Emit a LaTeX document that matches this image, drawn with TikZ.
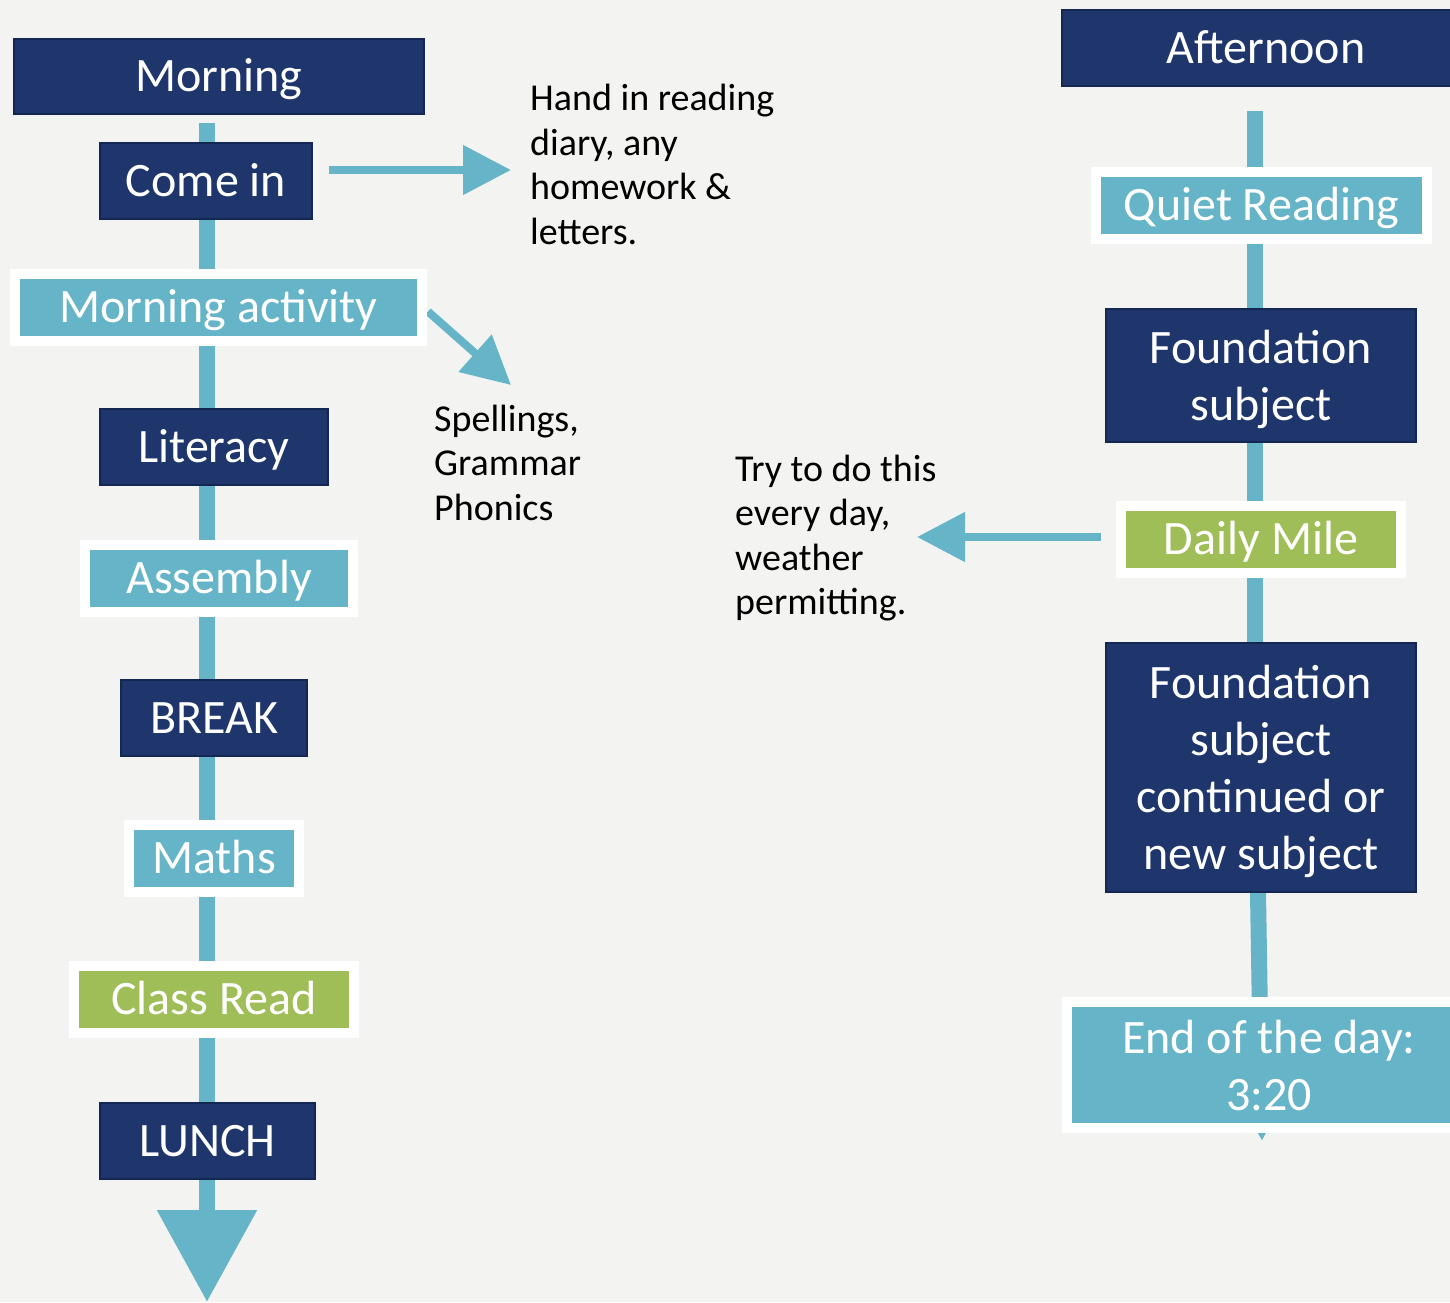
\documentclass[tikz,border=0pt]{standalone}
\usepackage{fontspec}
\setmainfont{Carlito}
\usetikzlibrary{arrows.meta}
\definecolor{bg}{RGB}{243,243,241}
\definecolor{navy}{RGB}{30,54,108}
\definecolor{navyedge}{RGB}{20,38,82}
\definecolor{lblue}{RGB}{102,180,200}
\definecolor{lgreen}{RGB}{160,190,87}
\pgfdeclarelayer{bottom}
\pgfdeclarelayer{background}
\pgfsetlayers{bottom,background,main}
\begin{document}
\begin{tikzpicture}[x=1pt,y=-1pt,
  boxfont/.style={font=\fontsize{48}{57}\selectfont},
  navybox/.style={boxfont, fill=navy, draw=navyedge, line width=2pt, text=white, inner sep=0pt, align=center},
  framebox/.style={boxfont, draw=white, line width=10pt, text=white, inner sep=0pt, align=center},
  bluebox/.style={framebox, fill=lblue},
  greenbox/.style={framebox, fill=lgreen},
  oneline/.style={text height=30pt, text depth=0pt},
  multiline/.style={text depth=0pt},
  vline/.style={draw=lblue, line width=16pt},
  pointer/.style={draw=lblue, line width=8pt, -{Triangle[length=48pt,width=48pt]}},
  bigtip/.style={-{Triangle[length=92pt,width=96pt]}},
  note/.style={font=\fontsize{38}{44.5}\selectfont, align=left, inner sep=0pt, anchor=base west, text=black}
]
\useasboundingbox (0,0) rectangle (1450,1302);
\begin{pgfonlayer}{bottom}
\fill[bg] (0,0) rectangle (1450,1302);
\end{pgfonlayer}

% left column
\node[navybox, oneline, minimum width=410pt, minimum height=75pt] (morning) at (219,76.5) {Morning};
\node[navybox, oneline, minimum width=212pt, minimum height=76pt] (comein) at (206,181) {Come in};
\node[bluebox, oneline, minimum width=407pt, minimum height=67.5pt] (mact) at (218.5,307.5) {Morning activity};
\node[navybox, oneline, minimum width=228pt, minimum height=76pt] (literacy) at (214,447) {Literacy};
\node[bluebox, oneline, minimum width=268pt, minimum height=67pt] (assembly) at (219,578.5) {Assembly};
\node[navybox, oneline, minimum width=186pt, minimum height=76pt] (brk) at (214,718) {BREAK};
\node[bluebox, oneline, minimum width=170pt, minimum height=67pt] (maths) at (214,858.5) {Maths};
\node[greenbox, oneline, minimum width=280pt, minimum height=67pt] (classread) at (214,999.5) {Class Read};
\node[navybox, oneline, minimum width=215pt, minimum height=76pt] (lunch) at (207.5,1141) {LUNCH};

% right column
\node[navybox, oneline, minimum width=408pt, minimum height=76pt] (afternoon) at (1266,48) {Afternoon};
\node[bluebox, oneline, minimum width=331pt, minimum height=67pt] (quiet) at (1261.5,205.5) {Quiet Reading};
\node[navybox, multiline, minimum width=310pt, minimum height=133pt] (found1) at (1261,375.5) {Foundation\\subject};
\node[greenbox, oneline, minimum width=280pt, minimum height=67pt] (daily) at (1261,539.5) {Daily Mile};
\node[navybox, multiline, minimum width=310pt, minimum height=249pt] (found2) at (1261,767.5) {Foundation\\subject\\continued or\\new subject};
\node[bluebox, multiline, minimum width=404pt, minimum height=126pt] (endday) at (1269,1065) {End of the day:\\3:20};

% notes (anchored at the baseline of their last line)
\node[note] (handin) at (530,244) {Hand in reading\\diary, any\\homework \&\\letters.};
\node[note] (spell) at (434,520) {Spellings,\\Grammar\\Phonics};
\node[note] (tryto) at (735,614.5) {Try to do this\\every day,\\weather\\permitting.};

% coordinates
\coordinate (ltop) at (207,123);
\coordinate (lend) at (207,1302);
\coordinate (rtop) at (1255,111);
\coordinate (rend) at (1262,1141);
\coordinate (tip1) at (511,170);
\coordinate (tip2) at (511,385);
\coordinate (tip3) at (917,537);

\begin{pgfonlayer}{background}
\draw[vline] (ltop) -- (comein.north -| ltop);
\draw[vline] (comein.south -| ltop) -- (mact.north -| ltop);
\draw[vline] (mact.south -| ltop) -- (literacy.north -| ltop);
\draw[vline] (literacy.south -| ltop) -- (assembly.north -| ltop);
\draw[vline] (assembly.south -| ltop) -- (brk.north -| ltop);
\draw[vline] (brk.south -| ltop) -- (maths.north -| ltop);
\draw[vline] (maths.south -| ltop) -- (classread.north -| ltop);
\draw[vline] (classread.south -| ltop) -- (lunch.north -| ltop);
\draw[vline, bigtip] (lunch.south -| ltop) -- (lend);

\draw[vline] (rtop) -- (quiet.north -| rtop);
\draw[vline] (quiet.south -| rtop) -- (found1.north -| rtop);
\draw[vline] (found1.south -| rtop) -- (daily.north -| rtop);
\draw[vline] (daily.south -| rtop) -- (found2.north -| rtop);
\draw[vline, bigtip] ([xshift=3pt]found2.south -| rtop) -- (rend);

\draw[pointer] ([shift={(16,-11)}]comein.east) -- (tip1);
\draw[pointer] ([shift={(1,4)}]mact.east) -- (tip2);
\draw[pointer] ([shift={(-15,-2.5)}]daily.west) -- (tip3);
\end{pgfonlayer}
\end{tikzpicture}
\end{document}
